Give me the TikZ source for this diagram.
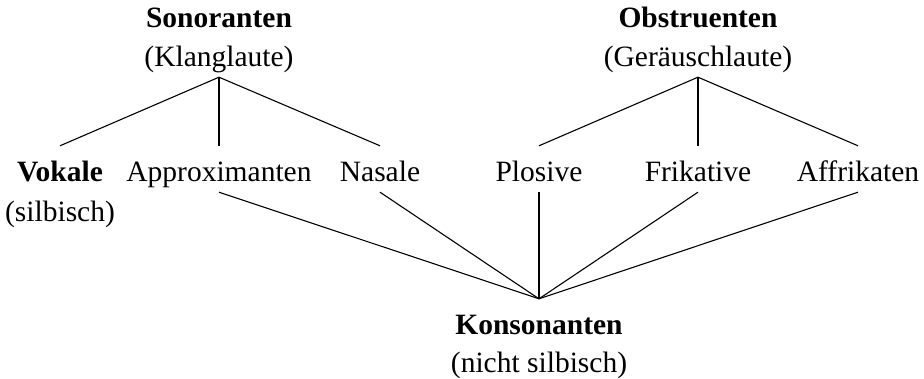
\documentclass[tikz,border=0pt]{standalone}
\usepackage{fontspec}
\setmainfont{Liberation Serif}
\usepackage{tikz}
\usetikzlibrary{positioning}

\begin{document}
\begin{tikzpicture}[x=1pt, y=-1pt,
    word/.style={anchor=base, inner sep=0pt, text height=36pt, text depth=10pt, font=\fontsize{29.5}{36}\selectfont},
    head/.style={word, font=\fontsize{29.5}{36}\selectfont\bfseries},
    branch/.style={line width=1.1pt}
]
\useasboundingbox (0,0) rectangle (924,379);

\node[head] (son) at (219,28) {Sonoranten};
\node[word] (sonsub) at (219,67) {(Klanglaute)};
\node[head] (obs) at (698,28) {Obstruenten};
\node[word] (obssub) at (698,67) {(Geräuschlaute)};

\node[head] (vok) at (60,182) {Vokale};
\node[word] (voksub) at (60,222) {(silbisch)};
\node[word] (app) at (219,182) {Approximanten};
\node[word] (nas) at (380,182) {Nasale};
\node[word] (plo) at (539,182) {Plosive};
\node[word] (fri) at (698,182) {Frikative};
\node[word] (aff) at (858,182) {Affrikaten};

\node[head] (kon) at (539,335) {Konsonanten};
\node[word] (konsub) at (539,373) {(nicht silbisch)};

\draw[branch] (sonsub.south) -- (vok.north);
\draw[branch] (sonsub.south) -- (app.north);
\draw[branch] (sonsub.south) -- (nas.north);
\draw[branch] (obssub.south) -- (plo.north);
\draw[branch] (obssub.south) -- (fri.north);
\draw[branch] (obssub.south) -- (aff.north);

\draw[branch] (app.south) -- (kon.north);
\draw[branch] (nas.south) -- (kon.north);
\draw[branch] (plo.south) -- (kon.north);
\draw[branch] (fri.south) -- (kon.north);
\draw[branch] (aff.south) -- (kon.north);

\end{tikzpicture}
\end{document}
